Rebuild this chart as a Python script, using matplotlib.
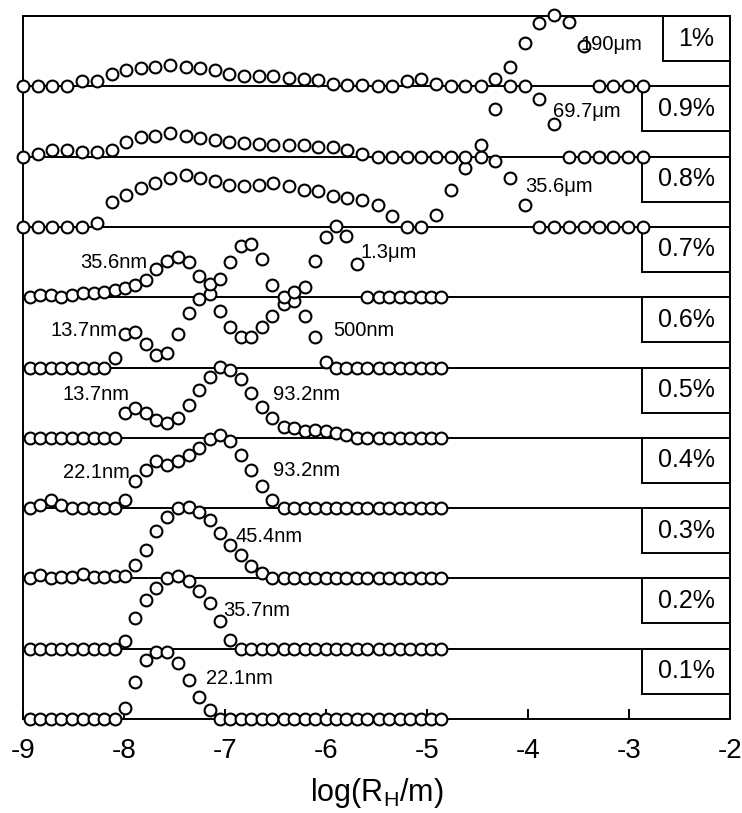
import matplotlib.pyplot as plt
from matplotlib.patches import Rectangle

plt.rcParams['font.family'] = ['Liberation Sans', 'DejaVu Sans']
plt.rcParams['axes.unicode_minus'] = False
plt.rcParams['mathtext.fontset'] = 'custom'
plt.rcParams['mathtext.rm'] = 'Liberation Sans'
plt.rcParams['mathtext.it'] = 'Liberation Sans:italic'

# log(Rh/m) sampling of the size distributions
x_wide = [-9.00, -8.85, -8.71, -8.56, -8.42, -8.27, -8.12, -7.98, -7.83, -7.69,
          -7.54, -7.39, -7.25, -7.10, -6.96, -6.81, -6.66, -6.52, -6.37, -6.22,
          -6.08, -5.93, -5.79, -5.64, -5.49, -5.35, -5.20, -5.06, -4.91, -4.76,
          -4.62, -4.47, -4.33, -4.18, -4.03, -3.89, -3.74, -3.59, -3.45, -3.30,
          -3.16, -3.01, -2.86]
x_narrow = [-8.93, -8.83, -8.72, -8.62, -8.51, -8.41, -8.30, -8.20, -8.09, -7.99,
            -7.89, -7.78, -7.68, -7.57, -7.47, -7.36, -7.26, -7.15, -7.05, -6.95,
            -6.84, -6.74, -6.63, -6.53, -6.42, -6.32, -6.21, -6.11, -6.00, -5.90,
            -5.80, -5.69, -5.59, -5.48, -5.38, -5.27, -5.17, -5.06, -4.96, -4.86]

concentrations = ["0.1%", "0.2%", "0.3%", "0.4%", "0.5%",
                  "0.6%", "0.7%", "0.8%", "0.9%", "1%"]

# normalised distributions (0 = baseline, 1 = full panel height)
dist_01 = [0, 0, 0, 0, 0, 0, 0, 0, 0, 0.16, 0.53, 0.84, 0.95, 0.95, 0.80, 0.55,
           0.31, 0.13] + [0] * 22
dist_02 = [0, 0, 0, 0, 0, 0, 0, 0, 0, 0.11, 0.44, 0.70, 0.87, 1.01, 1.04, 0.97,
           0.82, 0.65, 0.40, 0.13] + [0] * 20
dist_03 = [0, 0.05, 0, 0.02, 0.02, 0.06, 0.02, 0.02, 0.03, 0.04, 0.19, 0.40,
           0.67, 0.88, 1.00, 1.02, 0.95, 0.83, 0.64, 0.47, 0.33, 0.18,
           0.07] + [0] * 17
dist_04 = [0, 0.05, 0.11, 0.05, 0, 0, 0, 0, 0, 0.11, 0.38, 0.54, 0.67, 0.61,
           0.67, 0.75, 0.85, 0.99, 1.04, 0.95, 0.75, 0.54, 0.31, 0.11] + [0] * 16
dist_05 = [0, 0, 0, 0, 0, 0, 0, 0, 0, 0.35, 0.43, 0.35, 0.26, 0.21, 0.28, 0.47,
           0.68, 0.87, 1.01, 0.97, 0.83, 0.64, 0.44, 0.28, 0.16, 0.14, 0.09,
           0.11, 0.09, 0.07, 0.04] + [0] * 9
dist_06 = [0, 0, 0, 0, 0, 0, 0, 0, 0.14, 0.47, 0.50, 0.33, 0.18, 0.21, 0.47,
           0.78, 0.97, 1.04, 0.80, 0.57, 0.43, 0.44, 0.57, 0.73, 0.90, 0.94,
           0.73, 0.44, 0.08] + [0] * 11
dist_07 = [0, 0.03, 0.03, 0, 0.03, 0.06, 0.06, 0.07, 0.10, 0.13, 0.17, 0.24,
           0.40, 0.51, 0.57, 0.50, 0.30, 0.19, 0.26, 0.50, 0.73, 0.75, 0.54,
           0.18, 0, 0.07, 0.14, 0.51, 0.85, 1.01, 0.87, 0.47] + [0] * 8
dist_08 = [0, 0, 0, 0, 0, 0.06, 0.36, 0.46, 0.55, 0.63, 0.70, 0.74, 0.70, 0.65,
           0.60, 0.58, 0.60, 0.63, 0.58, 0.53, 0.51, 0.44, 0.41, 0.38, 0.31,
           0.16, 0, 0, 0.17, 0.53, 0.84, 1.00, 0.94, 0.70, 0.31] + [0] * 8
dist_09 = [0, 0.04, 0.09, 0.09, 0.06, 0.06, 0.09, 0.21, 0.28, 0.30, 0.33, 0.30,
           0.27, 0.23, 0.21, 0.20, 0.18, 0.17, 0.16, 0.16, 0.14, 0.13, 0.09,
           0.04, 0, 0, 0, 0, 0, 0, 0, 0.16, 0.68, 1.00, 1.00, 0.82,
           0.46] + [0] * 6
dist_10 = [0, 0, 0, 0, 0.08, 0.08, 0.18, 0.23, 0.26, 0.28, 0.30, 0.28, 0.26,
           0.23, 0.18, 0.14, 0.14, 0.14, 0.12, 0.11, 0.09, 0.04, 0.02, 0.02,
           0, 0, 0.07, 0.11, 0.04, 0, 0, 0, 0.11, 0.28, 0.61, 0.90, 1.02, 0.91,
           0.57, 0, 0, 0, 0]

series = [
    (x_narrow, dist_01), (x_narrow, dist_02), (x_narrow, dist_03),
    (x_narrow, dist_04), (x_narrow, dist_05), (x_narrow, dist_06),
    (x_narrow, dist_07), (x_wide, dist_08), (x_wide, dist_09),
    (x_wide, dist_10),
]

fig = plt.figure(figsize=(7.42, 8.13), dpi=100)
ax = fig.add_axes([0.031, 0.1156, 0.9528, 0.8647])
ax.set_xlim(-9, -2)
ax.set_ylim(0, 10)

for level in range(1, 10):
    ax.axhline(level, color='black', lw=1.4, zorder=1)

for level, (xs, vs) in enumerate(series):
    ax.plot(xs, [level + v for v in vs], linestyle='none', marker='o', ms=8.5,
            mfc='white', mec='black', mew=1.5, zorder=3, clip_on=False)

# peak sizes
peak_notes = [
    ("190μm", -3.48, 9.59), ("69.7μm", -3.75, 8.64), ("35.6μm", -4.03, 7.57),
    ("1.3μm", -5.66, 6.64), ("35.6nm", -8.43, 6.50),
    ("13.7nm", -8.73, 5.53), ("500nm", -5.93, 5.53),
    ("13.7nm", -8.61, 4.61), ("93.2nm", -6.52, 4.61),
    ("22.1nm", -8.60, 3.51), ("93.2nm", -6.52, 3.54),
    ("45.4nm", -6.90, 2.59), ("35.7nm", -7.02, 1.55), ("22.1nm", -7.19, 0.58),
]
for text, xt, yt in peak_notes:
    ax.text(xt, yt, text, fontsize=14.5, ha='left', va='center', zorder=4)

# concentration tags in the top right corner of every panel
fig.canvas.draw()
renderer = fig.canvas.get_renderer()
inv = ax.transData.inverted()
for level, label in enumerate(concentrations):
    top = level + 1
    t = ax.text(-2.153, top - 0.32, label, ha='right', va='center',
                fontsize=18, zorder=5)
    bb = t.get_window_extent(renderer)
    left = inv.transform((bb.x0 - 15.5, 0))[0]
    ax.add_patch(Rectangle((left, top - 0.64), -2 - left, 0.64, fc='white',
                           ec='black', lw=1.4, zorder=2))

ax.set_xticks(range(-9, -1))
ax.set_yticks([])
ax.tick_params(axis='x', direction='in', length=7, width=1.4, labelsize=20,
               pad=14)
for side in ['left', 'right', 'top', 'bottom']:
    ax.spines[side].set_linewidth(1.4)
ax.set_xlabel(r'log(R$_\mathrm{H}$/m)', fontsize=22, labelpad=8)

fig.savefig('out.png', dpi=100)
